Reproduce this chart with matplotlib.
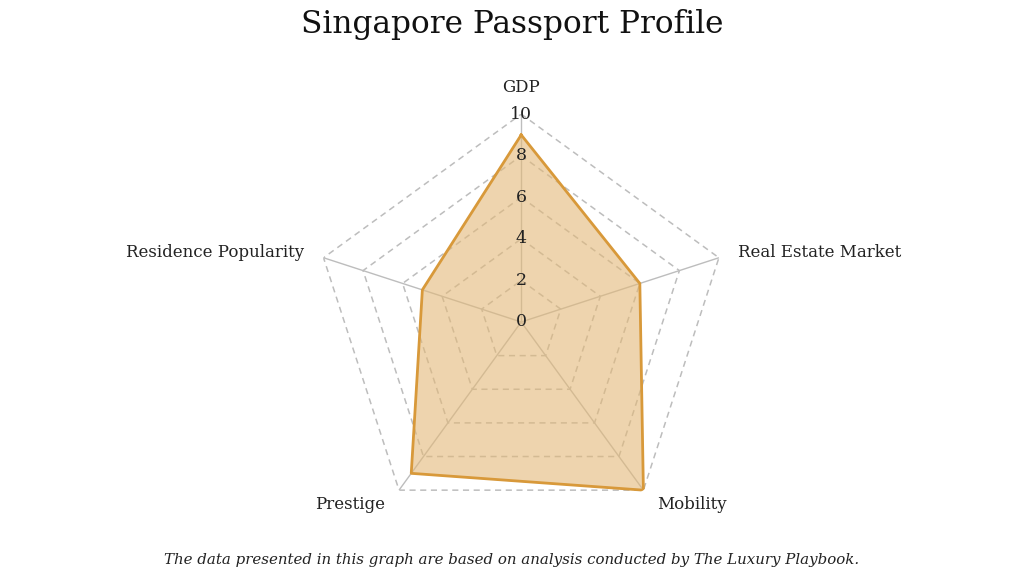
import numpy as np
import matplotlib
matplotlib.use("Agg")
from matplotlib import pyplot as plt

categories = ["GDP", "Real Estate Market", "Mobility", "Prestige", "Residence Popularity"]
values = [9, 6, 10, 9, 5]
rings = [2, 4, 6, 8, 10]
tick_labels = ["0", "2", "4", "6", "8", "10"]

plt.rcParams['font.family'] = ['DejaVu Serif']

fig = plt.figure(figsize=(10.24, 5.76), dpi=100)
ax = fig.add_axes([0.306, 0.080, 0.406, 0.722], projection='polar')
ax.set_theta_offset(np.pi / 2)
ax.set_theta_direction(-1)
ax.set_ylim(0, 10)
ax.grid(False)
ax.spines['polar'].set_visible(False)
ax.set_xticks([])
ax.set_yticks([])

n = len(categories)
theta = np.linspace(0, 2 * np.pi, n, endpoint=False)
theta_closed = np.append(theta, theta[0])

# dashed pentagon rings
for r in rings:
    ax.plot(theta_closed, [r] * (n + 1), color='#bdbdbd', lw=1.1, ls=(0, (4, 3)), zorder=1)
# spokes
for t in theta:
    ax.plot([t, t], [0, 10], color='#bdbdbd', lw=1.0, zorder=1)

vals = values + values[:1]
ax.fill(theta_closed, vals, color='#e3b878', alpha=0.6, zorder=2)
ax.plot(theta_closed, vals, color='#d8993a', lw=2, zorder=3)

for i, lab in enumerate(tick_labels):
    ax.text(0, i * 2, lab, ha='center', va='center', fontsize=12.5, color='#222222', zorder=4)

offsets = [(0, 13, 'center', 'bottom'), (14, 4, 'left', 'center'),
           (10, -4, 'left', 'top'), (-10, -4, 'right', 'top'),
           (-14, 4, 'right', 'center')]
for t, lab, (dx, dy, ha, va) in zip(theta, categories, offsets):
    ax.annotate(lab, xy=(t, 10), xytext=(dx, dy), textcoords='offset points',
                ha=ha, va=va, fontsize=12, color='#222222', annotation_clip=False)

fig.text(0.5, 0.957, "Singapore Passport Profile", ha='center', va='center',
         fontsize=22.5, color='#111111')
fig.text(0.5, 0.028, "The data presented in this graph are based on analysis conducted by The Luxury Playbook.",
         ha='center', va='center', fontsize=10.8, style='italic', color='#222222')

fig.savefig("out.png", dpi=100)
